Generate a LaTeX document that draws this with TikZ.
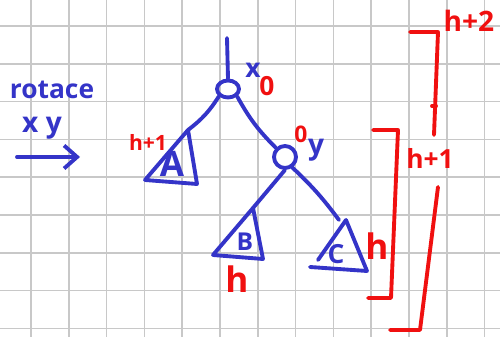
\documentclass[tikz,border=0pt]{standalone}
\usepackage{fontspec}
\setmainfont{Open Sans}
\usepackage{tikz}
\usetikzlibrary{calc}
\usetikzlibrary{shapes}
\usetikzlibrary{arrows.meta}
\definecolor{pen_blue}{RGB}{52,52,200}
\definecolor{pen_red}{RGB}{240,16,16}
\definecolor{paper_grid}{RGB}{200,200,200}

\begin{document}
\begin{tikzpicture}[x=0.02cm,y=-0.02cm,line cap=round,line join=round,
  blue_ink/.style={draw=pen_blue,line width=2.2pt},
  red_ink/.style={draw=pen_red,line width=2.2pt},
  blue_txt/.style={text=pen_blue,inner sep=0pt},
  red_txt/.style={text=pen_red,inner sep=0pt}]
\useasboundingbox[fill=white] (0,0) rectangle (500,337);
\foreach \i in {0,...,12} \draw[paper_grid,line width=0.9pt] (31+\i*37.8,0) -- (31+\i*37.8,337);
\foreach \j in {0,...,8} \draw[paper_grid,line width=0.9pt] (0,26+\j*37.8) -- (500,26+\j*37.8);

\node[name=rotace, blue_txt, anchor=base, font=\fontsize{15}{15}\selectfont\bfseries] at (52,99) {rotace};
\node[name=xy, blue_txt, anchor=base, font=\fontsize{16}{16}\selectfont\bfseries] at (42,133) {x y};
\coordinate (arr_start) at (17,157);
\coordinate (arr_end) at (80,157);
\draw[blue_ink, -{Straight Barb[length=0.26cm,width=0.46cm]}] (arr_start) -- (arr_end);

\coordinate (root_in) at (227,38);
\node[name=root_x, ellipse, blue_ink, inner sep=0pt, minimum width=0.44cm, minimum height=0.34cm] at (228,89) {};
\node[name=y_node, circle, blue_ink, inner sep=0pt, minimum size=0.44cm] at (285,157) {};

\coordinate (A_top) at (188,130);
\coordinate (A_left) at (145,180);
\coordinate (A_right) at (197,184);
\coordinate (B_top) at (253,208);
\coordinate (B_left) at (213,255);
\coordinate (B_right) at (263,259);
\coordinate (C_top) at (346,220);
\coordinate (C_side) at (318,260);
\coordinate (C_right) at (367,271);
\coordinate (C_left) at (310,267);

\draw[blue_ink] (A_top) -- (A_left) -- (A_right) -- cycle;
\draw[blue_ink] (B_top) -- (B_left) -- (B_right) -- cycle;
\draw[blue_ink] (C_side) -- (C_top) -- (C_right) -- (C_left);
\node[name=A, blue_txt, font=\fontsize{20}{20}\selectfont\bfseries] at (172,164) {A};
\node[name=B, blue_txt, font=\fontsize{14}{14}\selectfont\bfseries] at (245,242) {B};
\node[name=C, blue_txt, font=\fontsize{15}{15}\selectfont\bfseries] at (336,254) {C};

\draw[blue_ink] (root_in) -- (root_x.north);
\draw[blue_ink] (root_x.south west) to[bend left=10] (A_top);
\draw[blue_ink] (root_x.south east) to[bend right=8] (y_node.north west);
\draw[blue_ink] (y_node.south) -- (B_top);
\draw[blue_ink] (y_node.-55) to[bend left=5] ($(C_top)+(-7,0)$);

\node[name=x_lbl, blue_txt, font=\fontsize{15}{15}\selectfont\bfseries] at (253,70) {x};
\node[name=x_bal, red_txt, font=\fontsize{15}{15}\selectfont\bfseries] at (267,86) {0};
\node[name=y_bal, red_txt, font=\fontsize{13}{13}\selectfont\bfseries] at (301,134) {0};
\node[name=y_lbl, blue_txt, font=\fontsize{16}{16}\selectfont\bfseries] at (316,150) {y};
\node[name=A_h, red_txt, font=\fontsize{12}{12}\selectfont\bfseries] at (148,142) {h+1};
\node[name=B_h, red_txt, font=\fontsize{20}{20}\selectfont\bfseries] at (237,279) {h};
\node[name=C_h, red_txt, font=\fontsize{20}{20}\selectfont\bfseries] at (377,246) {h};

\draw[red_ink] (373,130) -- (398,130) -- (391,298) -- (368,298);
\draw[red_ink] (410,32) -- (438,32) -- (434,135);
\draw[red_ink] (432,106) -- (436,106);
\draw[red_ink] (438,187) -- (420,330) -- (390,330);
\node[name=mid_h, red_txt, font=\fontsize{15}{15}\selectfont\bfseries] at (430,158) {h+1};
\node[name=top_h, red_txt, font=\fontsize{16}{16}\selectfont\bfseries] at (469,21) {h+2};
\end{tikzpicture}
\end{document}
